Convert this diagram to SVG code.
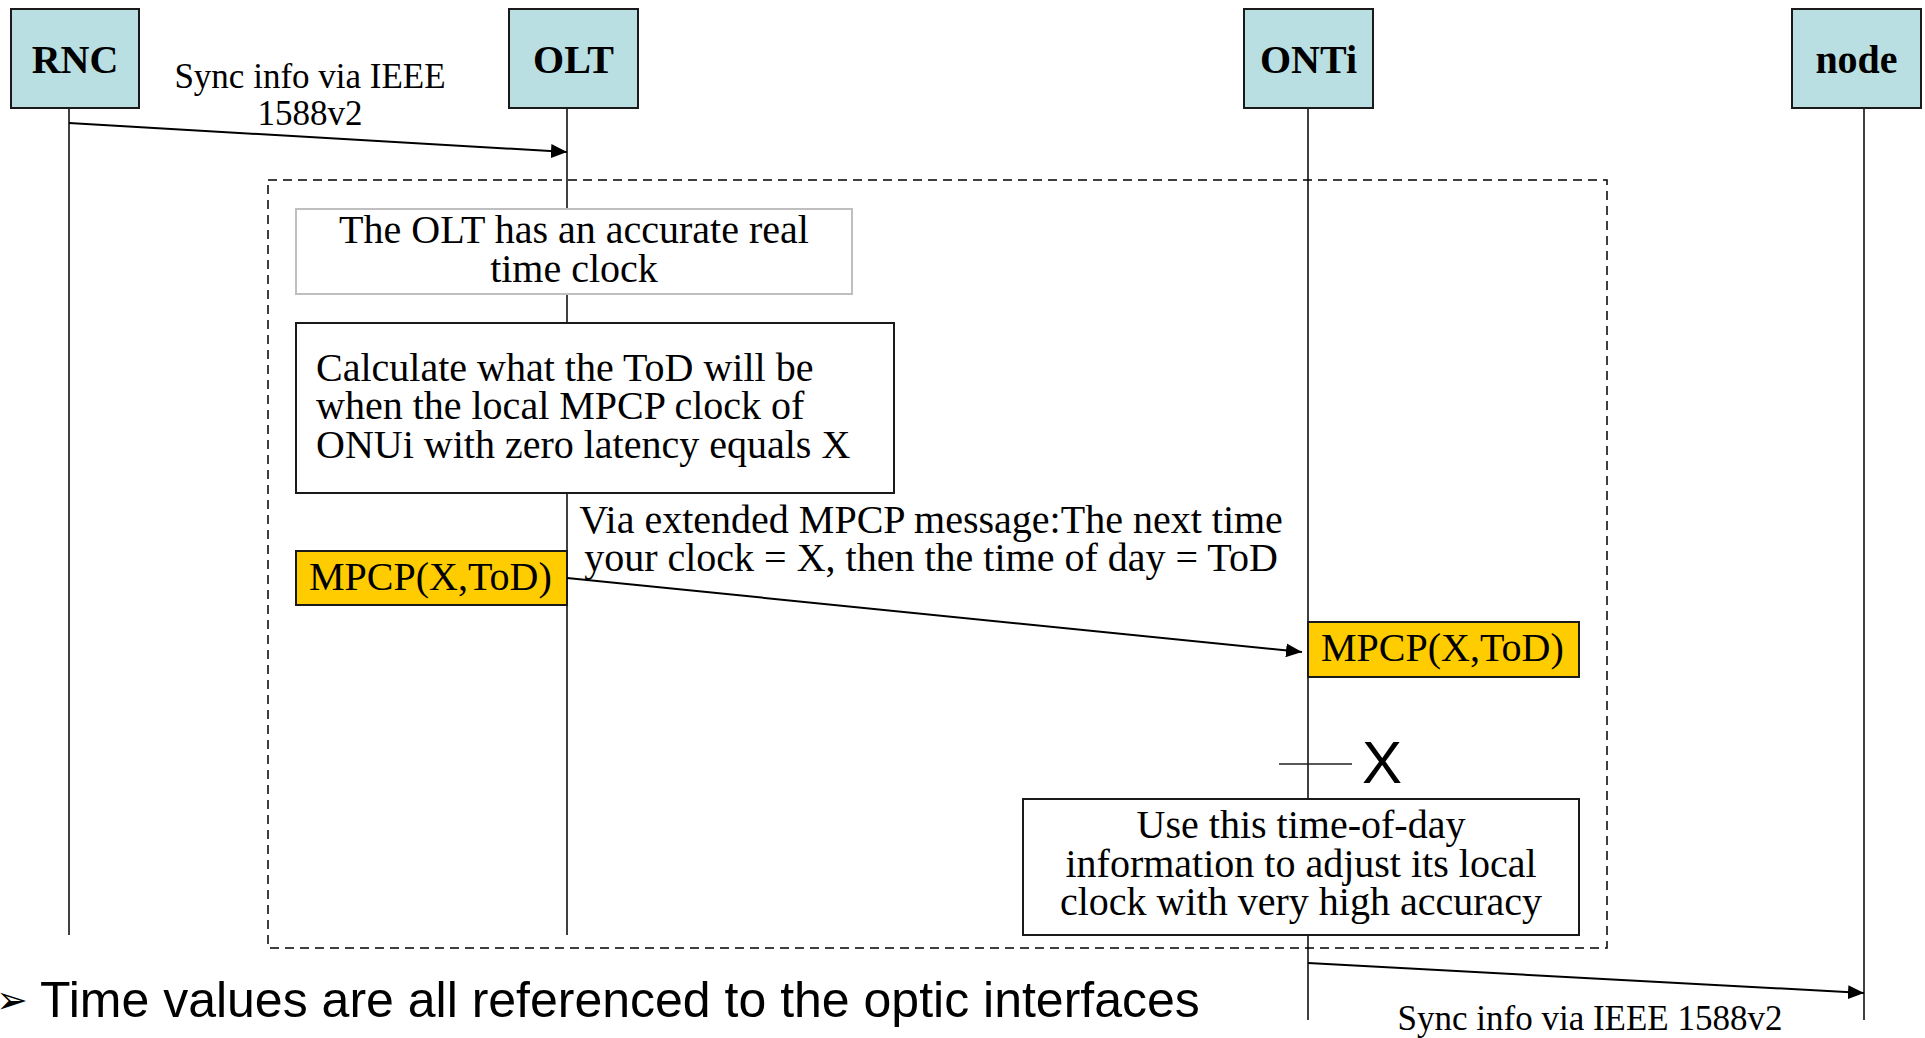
<svg xmlns="http://www.w3.org/2000/svg" width="1925" height="1038" viewBox="0 0 1925 1038">
<style>
.bg{fill:#ffffff}
.head{fill:#B9DFE2;stroke:#1a1a1a;stroke-width:2}
.headtxt{font-family:"Liberation Serif","Times New Roman",serif;font-weight:bold;font-size:40px;fill:#000;text-anchor:middle}
.life{stroke:#000;stroke-width:1.5;fill:none}
.msg{stroke:#000;stroke-width:2;fill:none}
.txt{font-family:"Liberation Serif","Times New Roman",serif;font-size:40px;fill:#000}
.lbl{font-family:"Liberation Serif","Times New Roman",serif;font-size:35px;fill:#000;text-anchor:middle}
.note{fill:#fff;stroke:#1a1a1a;stroke-width:2}
.note2{fill:#fff;stroke:#BFBFBF;stroke-width:2}
.yel{fill:#FFCC00;stroke:#1a1a1a;stroke-width:2}
.mid{text-anchor:middle}
.sans{font-family:"Liberation Sans",Arial,sans-serif;fill:#000}
</style>
<defs>
<marker id="arr" markerUnits="userSpaceOnUse" markerWidth="16" markerHeight="14" refX="16" refY="7" orient="auto">
<path d="M0,0 L16,7 L0,14 Z" fill="#000"/>
</marker>
</defs>
<rect class="bg" x="0" y="0" width="1925" height="1038"/>

<g id="lifelines">
<line class="life" x1="69" y1="108" x2="69" y2="935"/>
<line class="life" x1="567" y1="108" x2="567" y2="935"/>
<line class="life" x1="1308" y1="108" x2="1308" y2="1020"/>
<line class="life" x1="1864" y1="108" x2="1864" y2="1020"/>
</g>

<g id="frame">
<rect x="268" y="180" width="1339" height="768" fill="none" stroke="#000" stroke-width="1.5" stroke-dasharray="9 6"/>
</g>

<g id="node-RNC">
<rect class="head" x="11" y="9" width="128" height="99"/>
<text class="headtxt" x="75" y="73">RNC</text>
</g>
<g id="node-OLT">
<rect class="head" x="509" y="9" width="129" height="99"/>
<text class="headtxt" x="573.5" y="73">OLT</text>
</g>
<g id="node-ONTi">
<rect class="head" x="1244" y="9" width="129" height="99"/>
<text class="headtxt" x="1308.5" y="73">ONTi</text>
</g>
<g id="node-node">
<rect class="head" x="1792" y="9" width="129" height="99"/>
<text class="headtxt" x="1856.5" y="73">node</text>
</g>

<g id="note-accurate">
<rect class="note2" x="296" y="209" width="556" height="85"/>
<text class="txt mid"><tspan x="574" y="243">The OLT has an accurate real</tspan><tspan x="574" y="282">time clock</tspan></text>
</g>

<g id="note-calculate">
<rect class="note" x="296" y="323" width="598" height="170"/>
<text class="txt"><tspan x="316" y="381">Calculate what the ToD will be</tspan><tspan x="316" y="419">when the local MPCP clock of</tspan><tspan x="316" y="458">ONUi with zero latency equals X</tspan></text>
</g>

<g id="mpcp-olt">
<rect class="yel" x="296" y="551" width="271" height="54"/>
<text class="txt" x="309" y="590">MPCP(X,ToD)</text>
</g>

<g id="mpcp-onti">
<rect class="yel" x="1308" y="622" width="271" height="55"/>
<text class="txt" x="1321" y="661">MPCP(X,ToD)</text>
</g>

<g id="marker-X">
<line x1="1279" y1="764" x2="1352" y2="764" stroke="#222" stroke-width="1.5"/>
<text class="sans" x="1362" y="783" font-size="60">X</text>
</g>

<g id="note-use">
<rect class="note" x="1023" y="799" width="556" height="136"/>
<text class="txt mid"><tspan x="1301" y="838">Use this time-of-day</tspan><tspan x="1301" y="877">information to adjust its local</tspan><tspan x="1301" y="915">clock with very high accuracy</tspan></text>
</g>

<g id="connectors">
<line class="msg" x1="69" y1="123" x2="567" y2="152" marker-end="url(#arr)"/>
<line class="msg" x1="567" y1="578" x2="1302" y2="652" marker-end="url(#arr)"/>
<line class="msg" x1="1308" y1="963" x2="1864" y2="993" marker-end="url(#arr)"/>
</g>

<g id="labels">
<text class="lbl"><tspan x="310" y="88">Sync info via IEEE</tspan><tspan x="310" y="125">1588v2</tspan></text>
<text class="txt mid"><tspan x="931" y="533">Via extended MPCP message:The next time</tspan><tspan x="931" y="571">your clock = X, then the time of day = ToD</tspan></text>
<text class="lbl" x="1590" y="1030">Sync info via IEEE 1588v2</text>
</g>

<g id="footnote">
<text x="-4" y="1013" font-family="DejaVu Sans,sans-serif" font-size="38" fill="#000">➢</text>
<text class="sans" x="40" y="1017" font-size="50">Time values are all referenced to the optic interfaces</text>
</g>
</svg>
